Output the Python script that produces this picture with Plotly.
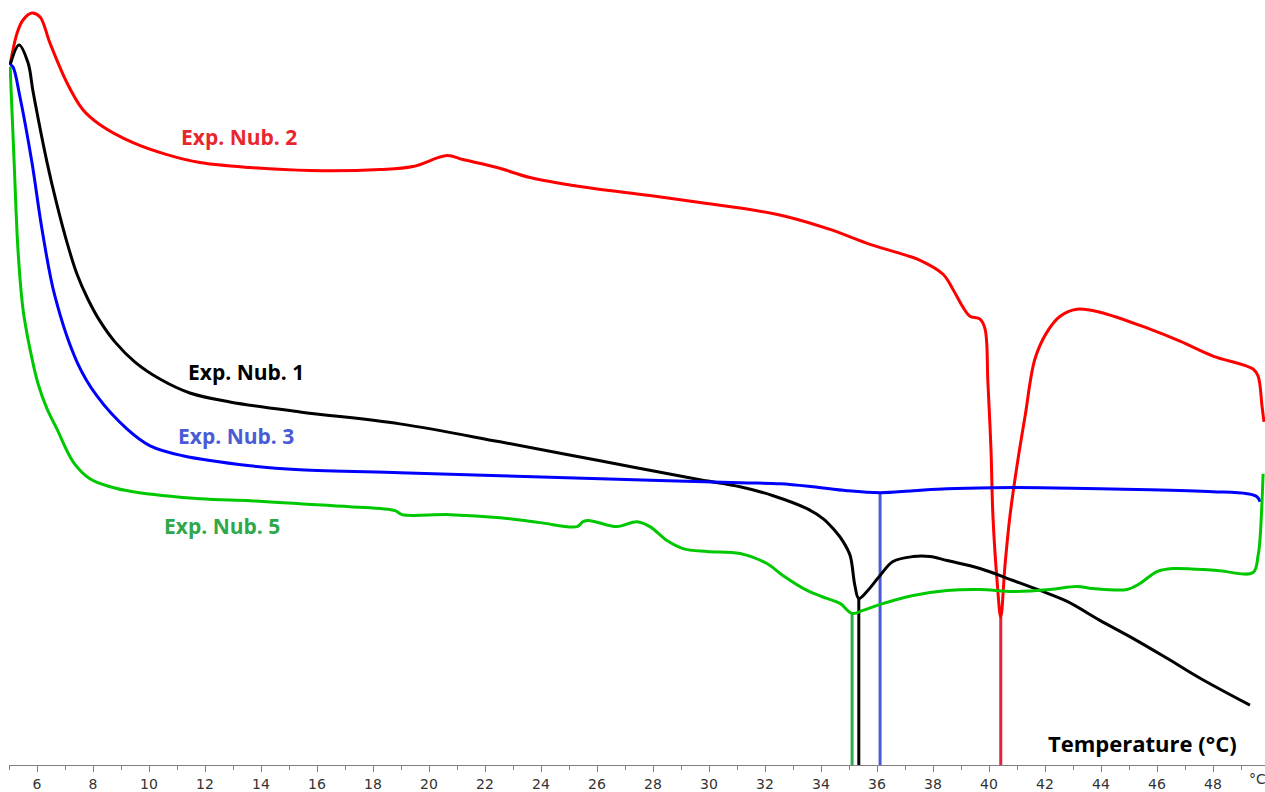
import plotly.graph_objects as go

# DSC heat-flow curves (arbitrary units) versus temperature (°C)
t_nub2 = [5.04, 5.29, 5.50, 5.82, 6.11, 6.46, 7.07, 7.64, 8.25, 9.43, 10.64, 11.82, 13.61,
          15.75, 18.25, 19.43, 20.64, 21.21, 22.43, 23.61, 25.39, 27.89, 29.68, 31.46, 32.89,
          34.32, 35.75, 36.82, 37.54, 38.36, 38.71, 39.07, 39.32, 39.68, 39.86, 39.96, 40.07,
          40.14, 40.29, 40.42, 40.57, 40.75, 41.00, 41.29, 41.64, 42.07, 42.54, 43.14, 43.96,
          45.75, 46.82, 48.00, 49.43, 49.61, 49.75, 49.82]
hf_nub2 = [7.02, 7.34, 7.47, 7.54, 7.50, 7.24, 6.84, 6.57, 6.42, 6.24, 6.12, 6.04, 5.99,
           5.96, 5.97, 6.00, 6.11, 6.07, 5.99, 5.89, 5.80, 5.71, 5.64, 5.57, 5.49,
           5.37, 5.22, 5.13, 5.06, 4.92, 4.77, 4.59, 4.50, 4.47, 4.37, 3.84, 3.17,
           2.50, 1.84, 1.48, 2.00, 2.50, 3.00, 3.50, 4.07, 4.34, 4.50, 4.57, 4.54,
           4.37, 4.25, 4.10, 3.97, 3.90, 3.60, 3.44]

t_nub1 = [5.04, 5.36, 5.68, 5.86, 6.36, 6.71, 7.07, 7.43, 7.82, 8.25, 8.79, 9.50, 10.39,
          11.46, 12.89, 15.39, 18.96, 22.54, 26.11, 29.68, 31.11, 32.29, 33.50, 34.07, 34.43,
          34.79, 35.04, 35.21, 35.35, 35.64, 36.11, 36.57, 37.29, 37.89, 38.50, 39.68, 40.86,
          41.82, 42.79, 43.96, 45.14, 46.36, 47.54, 49.32]
hf_nub1 = [7.02, 7.22, 7.04, 6.75, 6.04, 5.62, 5.24, 4.92, 4.67, 4.45, 4.24, 4.04, 3.87,
           3.73, 3.64, 3.54, 3.42, 3.24, 3.05, 2.86, 2.79, 2.70, 2.57, 2.47, 2.37,
           2.24, 2.10, 1.80, 1.67, 1.74, 1.90, 2.04, 2.09, 2.09, 2.05, 1.97, 1.85,
           1.75, 1.64, 1.45, 1.27, 1.07, 0.87, 0.60]

t_nub3 = [5.04, 5.14, 5.39, 5.82, 6.18, 6.64, 7.43, 8.14, 9.21, 10.04, 11.21, 13.61,
          15.39, 18.96, 22.54, 26.11, 31.11, 32.54, 33.71, 34.93, 36.11, 37.29, 38.50,
          40.14, 41.82, 43.96, 45.75, 48.00, 49.21, 49.57, 49.68]
hf_nub3 = [7.02, 7.00, 6.70, 6.04, 5.37, 4.70, 4.04, 3.70, 3.37, 3.20, 3.10, 3.00,
           2.96, 2.93, 2.90, 2.87, 2.83, 2.82, 2.79, 2.75, 2.73, 2.75, 2.77,
           2.78, 2.78, 2.77, 2.76, 2.74, 2.72, 2.69, 2.64]

t_nub5 = [5.04, 5.18, 5.32, 5.50, 5.75, 6.04, 6.36, 6.71, 7.29, 7.89, 8.61, 9.43, 11.82,
          13.61, 15.39, 17.18, 18.79, 19.04, 20.75, 22.54, 23.96, 25.29, 25.50, 25.75, 26.71,
          27.43, 27.89, 28.50, 29.07, 29.93, 31.11, 32.07, 32.64, 33.50, 34.21, 34.68, 35.11,
          35.50, 36.11, 37.29, 38.50, 39.68, 40.86, 42.18, 43.14, 43.71, 44.93, 45.39, 46.00,
          46.57, 48.14, 49.43, 49.61, 49.68, 49.79]
hf_nub5 = [7.00, 6.07, 5.17, 4.57, 4.17, 3.82, 3.57, 3.37, 3.04, 2.87, 2.79, 2.74, 2.67,
           2.65, 2.62, 2.59, 2.55, 2.51, 2.51, 2.48, 2.43, 2.39, 2.44, 2.45, 2.39,
           2.44, 2.39, 2.25, 2.17, 2.14, 2.12, 2.02, 1.90, 1.75, 1.67, 1.62, 1.52,
           1.55, 1.61, 1.70, 1.75, 1.76, 1.74, 1.76, 1.79, 1.77, 1.76, 1.82, 1.94,
           1.97, 1.95, 1.93, 2.10, 2.27, 2.92]

# peak (minimum) temperature of each endotherm, °C
peak_temps = [40.42, 35.35, 36.11, 35.11]

# name, temps, heat flow, curve colour, marker-line colour, label colour, label position (T, hf)
series = [
    ("Exp. Nub. 2", t_nub2, hf_nub2, "#ff0000", "#e8203c", "#e8262e", (13.2, 6.30)),
    ("Exp. Nub. 1", t_nub1, hf_nub1, "#000000", "#000000", "#000000", (13.45, 3.94)),
    ("Exp. Nub. 3", t_nub3, hf_nub3, "#0000ff", "#4a5bd6", "#4a5bd6", (13.1, 3.30)),
    ("Exp. Nub. 5", t_nub5, hf_nub5, "#00c800", "#30a850", "#2ea84a", (12.6, 2.40)),
]

fig = go.Figure()

# vertical markers from each peak down to the axis
for (name, t, hf, col, mcol, lcol, pos), tp in zip(series, peak_temps):
    i = t.index(tp)
    fig.add_trace(go.Scatter(x=[t[i], t[i]], y=[hf[i], 0], mode="lines",
                             line=dict(color=mcol, width=3),
                             showlegend=False, hoverinfo="skip"))

for name, t, hf, col, mcol, lcol, pos in series:
    fig.add_trace(go.Scatter(x=t, y=hf, mode="lines", name=name,
                             line=dict(color=col, width=3, shape="spline", smoothing=1.0),
                             showlegend=False))
    fig.add_annotation(x=pos[0], y=pos[1], text="<b>%s</b>" % name, showarrow=False,
                       font=dict(family="Open Sans", size=21, color=lcol),
                       xanchor="center", yanchor="middle")

W, H, L, B = 1265, 792, 9, 25


def px_to_paper(x, y):
    return (x - L) / (W - L), (H - B - y) / (H - B)


ax, ay = px_to_paper(1142, 745)
fig.add_annotation(x=ax, y=ay, xref="paper", yref="paper", text="<b>Temperature (°C)</b>",
                   showarrow=False, xanchor="center", yanchor="middle",
                   font=dict(family="Open Sans", size=22, color="#000000"))
ux, uy = px_to_paper(1257, 781)
fig.add_annotation(x=ux, y=uy, xref="paper", yref="paper", text="°C", showarrow=False,
                   xanchor="center", yanchor="middle",
                   font=dict(family="DejaVu Sans", size=14, color="#333333"))

fig.update_xaxes(range=[5.0, 49.857], tick0=6, dtick=2, ticks="outside", ticklen=6,
                 tickcolor="#808080", tickwidth=1,
                 showline=True, linecolor="#808080", linewidth=1, showgrid=False,
                 zeroline=False,
                 tickfont=dict(family="DejaVu Sans", size=14, color="#333333"),
                 minor=dict(dtick=1, tick0=5, ticks="outside", ticklen=4,
                            tickcolor="#808080", showgrid=False))
fig.update_yaxes(range=[0, 7.67], visible=False, showgrid=False, zeroline=False)

fig.update_layout(width=W, height=H, margin=dict(l=L, r=0, t=0, b=B),
                  plot_bgcolor="white", paper_bgcolor="white")

fig.write_html("out.html")
